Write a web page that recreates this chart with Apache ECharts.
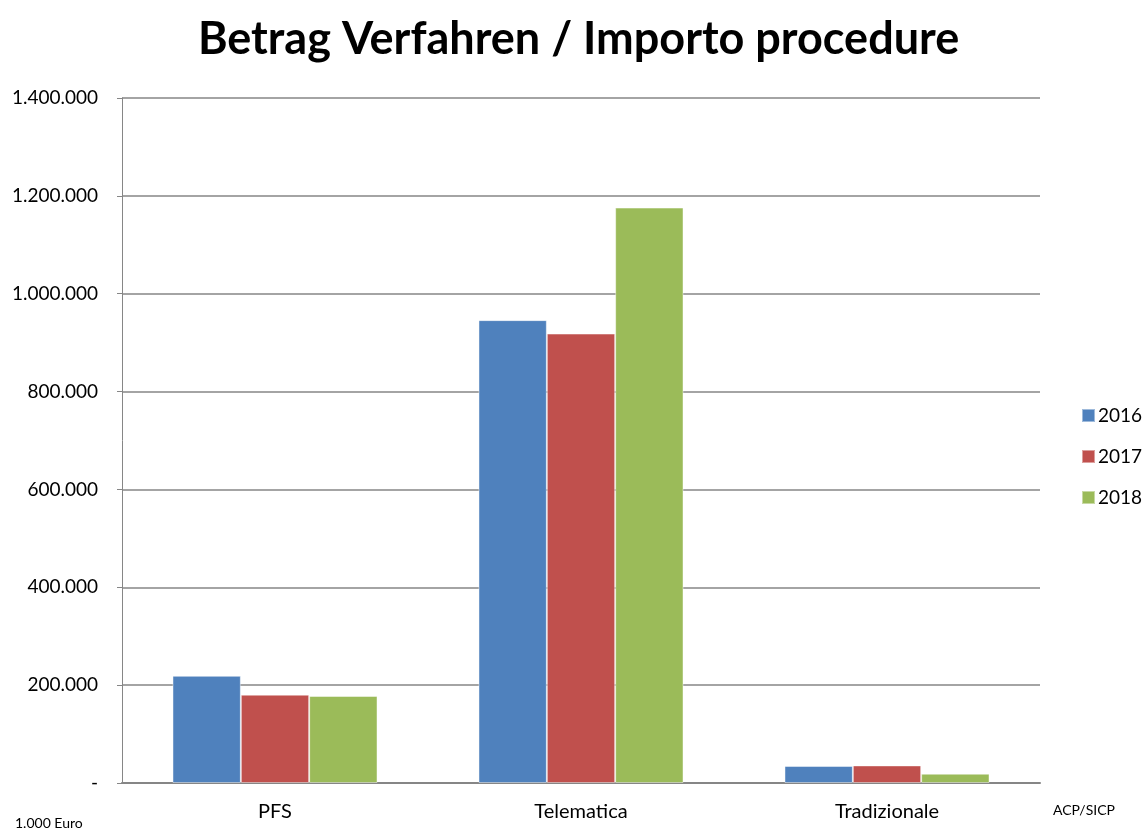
<!DOCTYPE html>
<html>
<head>
<meta charset="utf-8">
<script src="https://cdn.jsdelivr.net/npm/echarts@6/dist/echarts.min.js"></script>
<style>
  html, body { margin: 0; padding: 0; background: #fff; }
  #chart { width: 1145px; height: 831px; }
</style>
</head>
<body>
<div id="chart"></div>
<script>
// Data (1.000 Euro)
const categories = ['PFS', 'Telematica', 'Tradizionale'];
const years = ['2016', '2017', '2018'];
const values2016 = [219000, 946000, 34700];
const values2017 = [180500, 918500, 35900];
const values2018 = [177800, 1176000, 19000];
const colors = ['#4F81BD', '#C0504D', '#9BBB59'];

const chart = echarts.init(document.getElementById('chart'));
const font = 'Lato, "Open Sans", sans-serif';

// Format numbers with dot as thousands separator, zero shown as "-"
const fmt = (v) => v === 0 ? '-' : String(v).replace(/\B(?=(\d{3})+(?!\d))/g, '.');

const seriesValues = [values2016, values2017, values2018];

const option = {
    title: {
        text: 'Betrag Verfahren / Importo procedure',
        left: 193,
        top: 12,
        textStyle: { fontFamily: font, fontSize: 45, fontWeight: 'bold', color: '#000' }
    },
    legend: {
        orient: 'vertical',
        left: 1076,
        top: 401,
        itemWidth: 13,
        itemHeight: 13,
        itemGap: 22,
        icon: 'rect',
        textStyle: { fontFamily: font, fontSize: 19, color: '#000', padding: [0, 0, 0, -2] },
        data: years
    },
    graphic: [
        { type: 'text', left: 15, top: 816, style: { text: '1.000 Euro', fontFamily: font, fontSize: 14, fill: '#000' } },
        { type: 'text', left: 1053, top: 803, style: { text: 'ACP/SICP', fontFamily: font, fontSize: 14, fill: '#000' } }
    ],
    grid: { left: 122, right: 105, top: 98, bottom: 48, containLabel: false },
    xAxis: {
        type: 'category',
        data: categories,
        axisLine: { lineStyle: { color: '#868686', width: 2 } },
        axisTick: { show: false },
        axisLabel: { fontFamily: font, fontSize: 20, color: '#000', margin: 19 }
    },
    yAxis: {
        type: 'value',
        min: 0,
        max: 1400000,
        interval: 200000,
        axisLine: { show: true, lineStyle: { color: '#868686', width: 1 } },
        axisTick: { show: true, length: 5, lineStyle: { color: '#868686' } },
        splitLine: { lineStyle: { color: '#868686', width: 1.5 } },
        axisLabel: { fontFamily: font, fontSize: 19, color: '#000', margin: 24, formatter: fmt }
    },
    series: years.map((y, i) => ({
        name: y,
        type: 'bar',
        data: seriesValues[i],
        barGap: '0%',
        barCategoryGap: '33%',
        itemStyle: { color: colors[i], borderColor: 'rgba(255,255,255,0.45)', borderWidth: 1 }
    }))
};

chart.setOption(option);
</script>
</body>
</html>
